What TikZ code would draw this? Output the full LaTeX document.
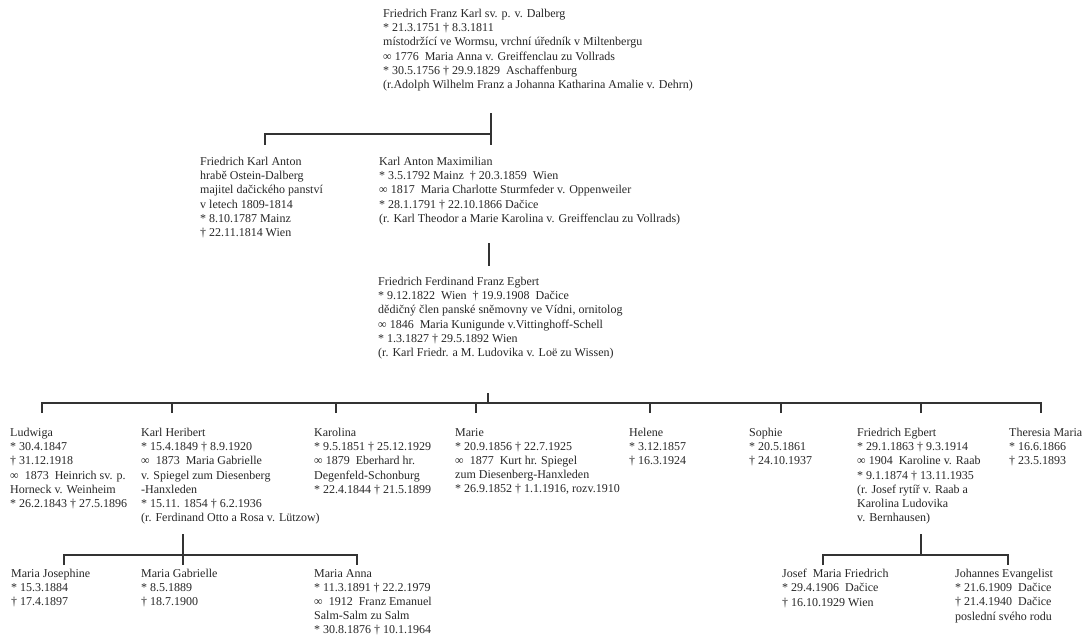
\documentclass[tikz,border=0pt]{standalone}
\usepackage{fontspec}
\setmainfont{Liberation Serif}

\begin{document}
\begin{tikzpicture}[
    x = 1pt, y = -1pt,
    person/.style = {anchor=north west, align=left, inner sep=0pt,
      font=\fontsize{12}{14.2}\selectfont, text=black!85},
    link/.style   = {draw=black!80, line width=1.2pt}
  ]
  \useasboundingbox (0,0) rectangle (1086,637);

  % generation 1
  \node [person] (dalberg) at (383,9) {Friedrich Franz Karl sv. p. v. Dalberg\\
    * 21.3.1751 † 8.3.1811\\
    místodržící ve Wormsu, vrchní úředník v Miltenbergu\\
    ∞ 1776~ Maria Anna v. Greiffenclau zu Vollrads\\
    * 30.5.1756 † 29.9.1829~ Aschaffenburg\\
    (r.Adolph Wilhelm Franz a Johanna Katharina Amalie v. Dehrn)};

  % generation 2
  \node [person] (anton) at (200,157) {Friedrich Karl Anton\\
    hrabě Ostein-Dalberg\\
    majitel dačického panství\\
    v letech 1809-1814\\
    * 8.10.1787 Mainz\\
    † 22.11.1814 Wien};
  \node [person] (karl) at (379,157) {Karl Anton Maximilian\\
    * 3.5.1792 Mainz~ † 20.3.1859~ Wien\\
    ∞ 1817~ Maria Charlotte Sturmfeder v. Oppenweiler\\
    * 28.1.1791 † 22.10.1866 Dačice\\
    (r. Karl Theodor a Marie Karolina v. Greiffenclau zu Vollrads)};

  % generation 3
  \node [person] (ffe) at (378,277) {Friedrich Ferdinand Franz Egbert\\
    * 9.12.1822~ Wien~ † 19.9.1908~ Dačice\\
    dědičný člen panské sněmovny ve Vídni, ornitolog\\
    ∞ 1846~ Maria Kunigunde v.Vittinghoff-Schell\\
    * 1.3.1827 † 29.5.1892 Wien\\
    (r. Karl Friedr. a M. Ludovika v. Loë zu Wissen)};

  % generation 4
  \node [person] (ludwiga) at (10,428) {Ludwiga\\
    * 30.4.1847\\
    † 31.12.1918\\
    ∞~ 1873~ Heinrich sv. p.\\
    Horneck v. Weinheim\\
    * 26.2.1843 † 27.5.1896};
  \node [person] (heribert) at (141,428) {Karl Heribert\\
    * 15.4.1849 † 8.9.1920\\
    ∞~ 1873~ Maria Gabrielle\\
    v. Spiegel zum Diesenberg\\
    -Hanxleden\\
    * 15.11. 1854 † 6.2.1936\\
    (r. Ferdinand Otto a Rosa v. Lützow)};
  \node [person] (karolina) at (314,428) {Karolina\\
    * 9.5.1851 † 25.12.1929\\
    ∞ 1879~ Eberhard hr.\\
    Degenfeld-Schonburg\\
    * 22.4.1844 † 21.5.1899};
  \node [person] (marie) at (455,428) {Marie\\
    * 20.9.1856 † 22.7.1925\\
    ∞~ 1877~ Kurt hr. Spiegel\\
    zum Diesenberg-Hanxleden\\
    * 26.9.1852 † 1.1.1916, rozv.1910};
  \node [person] (helene) at (629,428) {Helene\\
    * 3.12.1857\\
    † 16.3.1924};
  \node [person] (sophie) at (749,428) {Sophie\\
    * 20.5.1861\\
    † 24.10.1937};
  \node [person] (egbert) at (857,428) {Friedrich Egbert\\
    * 29.1.1863 † 9.3.1914\\
    ∞ 1904~ Karoline v. Raab\\
    * 9.1.1874 † 13.11.1935\\
    (r. Josef rytíř v. Raab a\\
    Karolina Ludovika\\
    v. Bernhausen)};
  \node [person] (theresia) at (1009,428) {Theresia Maria\\
    * 16.6.1866\\
    † 23.5.1893};

  % generation 5
  \node [person] (josephine) at (11,569) {Maria Josephine\\
    * 15.3.1884\\
    † 17.4.1897};
  \node [person] (gabrielle) at (141,569) {Maria Gabrielle\\
    * 8.5.1889\\
    † 18.7.1900};
  \node [person] (anna) at (314,569) {Maria Anna\\
    * 11.3.1891 † 22.2.1979\\
    ∞~ 1912~ Franz Emanuel\\
    Salm-Salm zu Salm\\
    * 30.8.1876 † 10.1.1964};
  \node [person] (josef) at (782,569) {Josef~ Maria Friedrich\\
    * 29.4.1906~ Dačice\\
    † 16.10.1929 Wien};
  \node [person] (johannes) at (955,569) {Johannes Evangelist\\
    * 21.6.1909~ Dačice\\
    † 21.4.1940~ Dačice\\
    poslední svého rodu};

  % connector ends
  \coordinate (dalberg-out)  at (491,113);
  \coordinate (dalberg-j)    at (491,134);
  \coordinate (anton-in)     at (265,145);
  \coordinate (karl-in)      at (491,145);
  \coordinate (karl-out)     at (489,243);
  \coordinate (ffe-in)       at (489,266);
  \coordinate (ffe-out)      at (488,393);
  \coordinate (ffe-j)        at (488,403);
  \coordinate (heribert-out) at (183,534);
  \coordinate (heribert-j)   at (183,555);
  \coordinate (egbert-out)   at (921,534);
  \coordinate (egbert-j)     at (921,555);
  \foreach \n/\x in {ludwiga/42, heribert/172, karolina/336, marie/476,
      helene/650, sophie/781, egbert/921, theresia/1041}
    \coordinate (\n-in) at (\x,413);
  \foreach \n/\x in {josephine/64, gabrielle/183, anna/357,
      josef/823, johannes/1008}
    \coordinate (\n-in) at (\x,565);

  % lines
  \draw [link] (dalberg-out) -- (karl-in);
  \draw [link] (dalberg-j) -| (anton-in);
  \draw [link] (karl-out) -- (ffe-in);
  \draw [link] (ffe-out) -- (ffe-j);
  \draw [link] (ludwiga-in) |- (ffe-j) -| (theresia-in);
  \foreach \n in {heribert, karolina, marie, helene, sophie, egbert}
    \draw [link] (\n-in) -- (\n-in |- ffe-j);
  \draw [link] (heribert-out) -- (gabrielle-in);
  \draw [link] (josephine-in) |- (heribert-j) -| (anna-in);
  \draw [link] (egbert-out) -- (egbert-j);
  \draw [link] (josef-in) |- (egbert-j) -| (johannes-in);
\end{tikzpicture}
\end{document}
